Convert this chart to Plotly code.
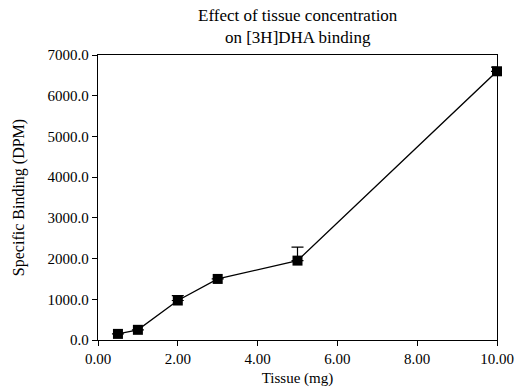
import plotly.graph_objects as go

# Binding data: tissue amount (mg) vs specific binding (DPM), with upper error
tissue_mg = [0.5, 1.0, 2.0, 3.0, 5.0, 10.0]
binding_dpm = [150, 250, 970, 1500, 1950, 6600]
binding_err = [0, 0, 120, 0, 330, 100]

x_ticks = [0, 2, 4, 6, 8, 10]
y_ticks = [0, 1000, 2000, 3000, 4000, 5000, 6000, 7000]

serif = "Liberation Serif"

fig = go.Figure()
fig.add_trace(go.Scatter(
    x=tissue_mg,
    y=binding_dpm,
    mode="lines+markers",
    line=dict(color="black", width=1.3),
    marker=dict(symbol="square", size=10, color="black"),
    error_y=dict(type="data", symmetric=False, array=binding_err,
                 arrayminus=[0] * len(binding_err),
                 color="black", thickness=1.2, width=6),
    cliponaxis=False,
    showlegend=False,
))

fig.update_layout(
    width=518, height=387,
    margin=dict(l=98, r=21, t=55, b=47),
    paper_bgcolor="white", plot_bgcolor="white",
    font=dict(family=serif, color="black", size=15),
    annotations=[dict(
        text="Effect of tissue concentration<br>on [3H]DHA binding",
        xref="paper", yref="paper", x=0.5, y=1.0, xanchor="center",
        yanchor="bottom", yshift=6, showarrow=False,
        font=dict(family=serif, size=17, color="black"),
    )],
)
fig.update_xaxes(
    range=[0, 10], tickvals=x_ticks, tickformat=".2f", automargin=False,
    showgrid=False, zeroline=False,
    showline=True, linecolor="black", linewidth=1.3, mirror=True,
    ticks="outside", ticklen=5, tickcolor="black",
    title=dict(text="Tissue (mg)", standoff=6, font=dict(size=15)),
    tickfont=dict(size=15),
)
fig.update_yaxes(
    range=[0, 7000], tickvals=y_ticks, tickformat=".1f", automargin=False,
    showgrid=False, zeroline=False,
    showline=True, linecolor="black", linewidth=1.3, mirror=True,
    ticks="outside", ticklen=5, tickcolor="black",
    title=dict(text="Specific Binding (DPM)", standoff=18, font=dict(size=16)),
    tickfont=dict(size=15),
)

fig.write_html("out.html")
